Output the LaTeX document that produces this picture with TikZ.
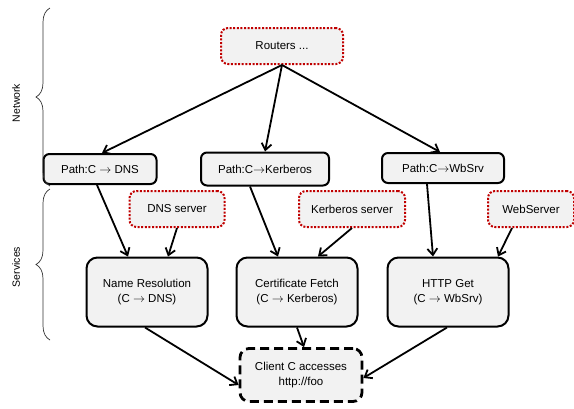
\documentclass[tikz,border=0pt]{standalone}
\usepackage{fontspec}
\setmainfont{Liberation Sans}
\usepackage{tikz}
\usetikzlibrary{arrows.meta,decorations.pathreplacing}

\definecolor{boxfill}{HTML}{F2F2F2}
\definecolor{dotred}{HTML}{C00000}
\newcommand{\toarr}{\ensuremath{\rightarrow}}

\begin{document}
\begin{tikzpicture}[x=1pt,y=-1pt,align=center,
    font=\fontsize{11.5}{15}\selectfont,
    pathbox/.style={draw,line width=2pt,rounded corners=6pt,fill=boxfill,minimum height=30pt,inner sep=2pt},
    srvbox/.style={draw,line width=2pt,rounded corners=11pt,fill=boxfill,minimum width=121pt,minimum height=69pt},
    resbox/.style={draw=dotred,line width=2pt,dash pattern=on 2pt off 1.6pt,rounded corners=7pt,fill=boxfill,minimum height=36pt},
    goalbox/.style={draw,line width=2.8pt,dash pattern=on 9pt off 5pt,rounded corners=9pt,fill=boxfill,minimum width=122pt,minimum height=53pt},
    arr/.style={-{Straight Barb[length=6.5pt,width=10pt]},line width=1.8pt},
    brc/.style={decorate,decoration={brace,amplitude=14pt},line width=0.7pt,draw=black!80}]
    \useasboundingbox (0,0) rectangle (574,408);

    \node[resbox,minimum width=122pt] at (282,46) (rt) {Routers ...};
    \node[pathbox,minimum width=113pt] at (100,169) (pdns) {Path:C \toarr{} DNS};
    \node[pathbox,minimum width=128pt,minimum height=33pt] at (265,169) (pkrb) {Path:C\toarr Kerberos};
    \node[pathbox,minimum width=122pt] at (443,168) (pweb) {Path:C\toarr WbSrv};
    \node[resbox,minimum width=95pt] at (177,209) (dns) {DNS server};
    \node[resbox,minimum width=106pt] at (352,209) (krb) {Kerberos server};
    \node[resbox,minimum width=86pt] at (531,209) (web) {WebServer};
    \node[srvbox] at (147,292) (nr) {Name Resolution\\(C \toarr{} DNS)};
    \node[srvbox] at (297,292) (cf) {Certificate Fetch\\(C \toarr{} Kerberos)};
    \node[srvbox] at (448,292) (hg) {HTTP Get\\(C \toarr{} WbSrv)};
    \node[goalbox] at (301,375) (cl) {Client C accesses\\http://foo};

    % layers on the left
    \node[rotate=90,font=\fontsize{10.5}{12}\selectfont] at (16,103) (net) {Network};
    \node[rotate=90,font=\fontsize{10.5}{12}\selectfont] at (16,267) (svc) {Services};
    \draw[brc] (50,186) -- (50,8);
    \draw[brc] (50,340) -- (50,189);

    \path[arr]
    (rt.south) edge ([xshift=2pt]pdns.north)
    (rt.south) edge (pkrb.north)
    (rt.south) edge ([xshift=-3pt]pweb.north)

    ([xshift=-3pt]pdns.south) edge ([xshift=-19pt]nr.north)
    (dns.south) edge ([xshift=21pt]nr.north)
    ([xshift=-15pt]pkrb.south) edge ([xshift=-19pt]cf.north)
    (krb.south) edge ([xshift=21pt]cf.north)
    ([xshift=-16pt]pweb.south) edge ([xshift=-15pt]hg.north)
    ([xshift=-19pt]web.south) edge ([xshift=50pt]hg.north)

    ([xshift=-2pt]nr.south) edge ([yshift=-10pt]cl.west)
    (cf.south) edge ([xshift=3pt]cl.north)
    ([xshift=-1pt]hg.south) edge ([yshift=-3pt]cl.east);
\end{tikzpicture}
\end{document}
